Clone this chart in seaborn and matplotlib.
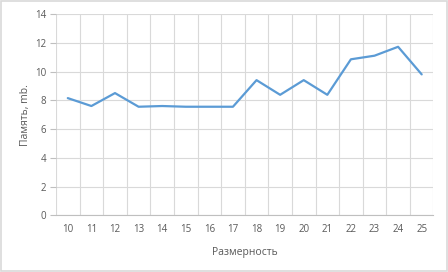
import matplotlib
matplotlib.use("Agg")
import matplotlib.pyplot as plt
import seaborn as sns
import pandas as pd
from matplotlib.ticker import MultipleLocator, FixedLocator
from matplotlib.patches import Rectangle

dims = list(range(10, 26))
memory = [8.15, 7.6, 8.5, 7.55, 7.6, 7.55, 7.55, 7.55, 9.4, 8.38, 9.4, 8.38, 10.85, 11.1, 11.72, 9.8]
x_label = "Размерность"
y_label = "Память, mb."

df = pd.DataFrame({"dim": dims, "mem": memory})

sns.set_theme(style="white")
plt.rcParams['font.family'] = ['Open Sans', 'DejaVu Sans']

text_col = "#595959"
grid_col = "#d9d9d9"

fig = plt.figure(figsize=(4.48, 2.72), dpi=100)
ax = fig.add_axes([0.125, 0.2085, 0.8426, 0.74])

sns.lineplot(data=df, x="dim", y="mem", ax=ax, color="#5B9BD5", linewidth=1.6)

ax.set_xlim(dims[0] - 0.5, dims[-1] + 0.5)
ax.set_ylim(0, 14)
ax.yaxis.set_major_locator(MultipleLocator(2))
ax.xaxis.set_major_locator(FixedLocator(dims))
ax.xaxis.set_minor_locator(FixedLocator([d - 0.5 for d in dims] + [dims[-1] + 0.5]))

ax.grid(True, axis="y", which="major", color=grid_col, linewidth=0.8)
ax.grid(True, axis="x", which="minor", color=grid_col, linewidth=0.8)
ax.set_axisbelow(True)

for s in ["top", "right", "left"]:
    ax.spines[s].set_visible(False)
ax.spines["bottom"].set_color("#bfbfbf")
ax.spines["bottom"].set_linewidth(0.8)

ax.tick_params(axis="x", which="major", length=0, labelsize=7, labelcolor=text_col, pad=6)
ax.tick_params(axis="x", which="minor", length=4, width=0.8, color="#bfbfbf", direction="out")
ax.tick_params(axis="y", which="major", length=4, width=0.8, color="#bfbfbf", labelsize=7,
               labelcolor=text_col, pad=3, left=True)

ax.set_xlabel(x_label, fontsize=7.5, color=text_col, labelpad=9)
ax.set_ylabel(y_label, fontsize=7.5, color=text_col, labelpad=3)

fig.patches.append(Rectangle((0.002, 0.002), 0.996, 0.996, transform=fig.transFigure,
                             fill=False, edgecolor="#d9d9d9", linewidth=1.2))

fig.savefig("out.png", dpi=100)
